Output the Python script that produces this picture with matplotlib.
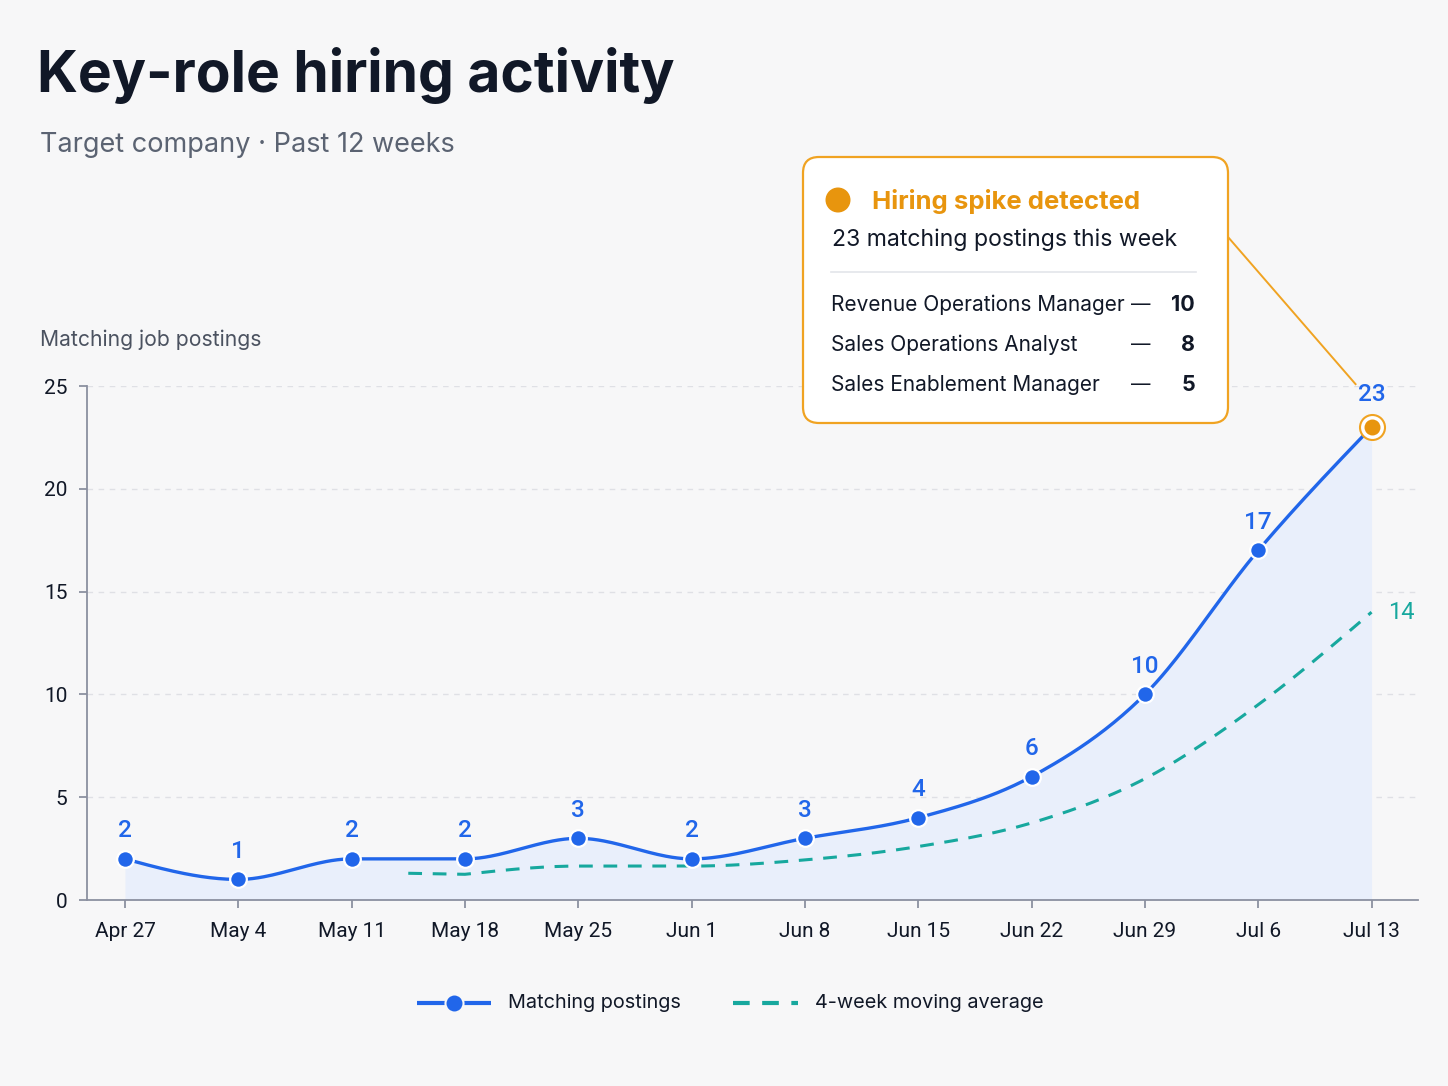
import numpy as np
import matplotlib
matplotlib.use("Agg")
import matplotlib.pyplot as plt
from matplotlib.patches import FancyBboxPatch, Circle

# ---------------- data ----------------
weeks = ["Apr 27", "May 4", "May 11", "May 18", "May 25", "Jun 1",
         "Jun 8", "Jun 15", "Jun 22", "Jun 29", "Jul 6", "Jul 13"]
postings = [2, 1, 2, 2, 3, 2, 3, 4, 6, 10, 17, 23]
moving_avg = [None, None, None, 1.25, 1.65, 1.65, 1.95, 2.6, 3.75, 5.9, 9.5, 14]
role_names = ["Revenue Operations Manager", "Sales Operations Analyst", "Sales Enablement Manager"]
role_counts = [10, 8, 5]
y_ticks = [0, 5, 10, 15, 20, 25]

# ---------------- style ----------------
W, H = 1448, 1086
BG = "#f7f7f8"
BLUE = "#2166ea"
TEAL = "#17a89e"
ORANGE = "#e8950e"
BOX_EDGE = "#f0a322"
DARK = "#111827"
GRAY = "#5b6372"
AXIS = "#8b90a0"
FILL = "#e9effb"

plt.rcParams['font.family'] = ['Inter', 'DejaVu Sans']


def monotone(x, y, n=40):
    x = np.asarray(x, float); y = np.asarray(y, float)
    h = np.diff(x); s = np.diff(y) / h
    m = np.zeros_like(y)
    for i in range(1, len(y) - 1):
        p = (s[i - 1] * h[i] + s[i] * h[i - 1]) / (h[i - 1] + h[i])
        m[i] = (np.sign(s[i - 1]) + np.sign(s[i])) * min(abs(s[i - 1]), abs(s[i]), 0.5 * abs(p))
    m[0] = (3 * s[0] - m[1]) / 2 if len(y) > 2 else s[0]
    m[-1] = (3 * s[-1] - m[-2]) / 2 if len(y) > 2 else s[-1]
    xs, ys = [], []
    for i in range(len(y) - 1):
        t = np.linspace(0, 1, n, endpoint=(i == len(y) - 2))
        h00 = 2 * t**3 - 3 * t**2 + 1
        h10 = t**3 - 2 * t**2 + t
        h01 = -2 * t**3 + 3 * t**2
        h11 = t**3 - t**2
        xs.append(x[i] + t * h[i])
        ys.append(h00 * y[i] + h10 * h[i] * m[i] + h01 * y[i + 1] + h11 * h[i] * m[i + 1])
    return np.concatenate(xs), np.concatenate(ys)


fig = plt.figure(figsize=(W / 100, H / 100), dpi=100, facecolor=BG)
ax = fig.add_axes([87 / W, 1 - 900 / H, (1418 - 87) / W, (900 - 386) / H])
ax.set_facecolor(BG)

x = np.arange(len(weeks))
ax.set_xlim(-0.335, 11.41)
ax.set_ylim(0, 25)

# grid
for yt in y_ticks[1:]:
    ax.axhline(yt, color="#dfe0e5", lw=1, dashes=(4, 4), zorder=0)

# main series
sx, sy = monotone(x, postings)
ax.fill_between(sx, 0, sy, color=FILL, zorder=1, lw=0)
ax.plot(sx, sy, color=BLUE, lw=2.4, zorder=3, solid_capstyle="round")
ax.plot(x[:-1], postings[:-1], "o", ms=12, color=BLUE, mec="white", mew=1.6, zorder=4)
# highlighted last point
ax.plot(x[-1], postings[-1], "o", ms=18, color="white", mec=BOX_EDGE, mew=1.5, zorder=4)
ax.plot(x[-1], postings[-1], "o", ms=11.5, color=ORANGE, mec=ORANGE, mew=0, zorder=5)

# moving average
ma_idx = [i for i, v in enumerate(moving_avg) if v is not None]
ma_val = [moving_avg[i] for i in ma_idx]
mx, my = monotone(ma_idx, ma_val)
mx = np.concatenate([[ma_idx[0] - 0.5], mx])
my = np.concatenate([[ma_val[0] + 0.05], my])
ax.plot(mx, my, color=TEAL, lw=2.2, dashes=(4.5, 3.5), zorder=2)
ax.annotate(f"{moving_avg[-1]:g}", (x[-1], moving_avg[-1]), xytext=(12, 0),
            textcoords="offset points", ha="left", va="center", color=TEAL,
            fontsize=17, family=["Roboto", "DejaVu Sans"])

# value labels
for i, v in enumerate(postings):
    off = 12 if i < len(postings) - 1 else 15
    ax.annotate(str(v), (x[i], v), xytext=(0, off), textcoords="offset points",
                ha="center", va="bottom", color=BLUE, fontsize=17.5, fontweight="medium",
                family=["Roboto", "DejaVu Sans"])

# axes styling
for sp in ["top", "right"]:
    ax.spines[sp].set_visible(False)
ax.spines["left"].set_color(AXIS)
ax.spines["bottom"].set_color(AXIS)
ax.spines["left"].set_linewidth(1.3)
ax.spines["bottom"].set_linewidth(1.3)
ax.set_xticks(x)
ax.set_xticklabels(weeks)
ax.set_yticks(y_ticks)
ax.set_yticklabels([str(t) for t in y_ticks])
ax.tick_params(axis="both", colors=AXIS, labelcolor=DARK, labelsize=15, length=6, width=1.3)
ax.tick_params(axis="x", pad=10)
ax.tick_params(axis="y", pad=8)
for lab in ax.get_xticklabels() + ax.get_yticklabels():
    lab.set_family(["Roboto", "DejaVu Sans"])

# ---------------- overlay (pixel coords) ----------------
ov = fig.add_axes([0, 0, 1, 1], facecolor="none")
ov.set_xlim(0, W); ov.set_ylim(H, 0); ov.axis("off")

ov.text(37, 75, "Key-role hiring activity", fontsize=41, fontweight="bold", color=DARK,
        va="center", ha="left")
ov.text(40, 145, "Target company · Past 12 weeks", fontsize=19.5, color=GRAY, va="center", ha="left")
ov.text(40, 340, "Matching job postings", fontsize=15.2, color="#4b5260", va="center", ha="left")

# callout box
box = FancyBboxPatch((803, 157), 425, 266, boxstyle="round,pad=0,rounding_size=16",
                     fc="white", ec=BOX_EDGE, lw=1.6, zorder=5)
ov.add_patch(box)
ov.add_patch(Circle((838, 200), 12.5, fc=ORANGE, ec="none", zorder=6))
ov.text(872, 202, "Hiring spike detected", fontsize=18.5, fontweight="bold", color=ORANGE,
        va="center", ha="left", zorder=6)
ov.text(832, 240, f"{postings[-1]} matching postings this week", fontsize=16.6, color=DARK,
        va="center", ha="left", zorder=6)
ov.plot([831, 1196], [272, 272], color="#e3e5ea", lw=1.2, zorder=6)
for k, (nm, ct) in enumerate(zip(role_names, role_counts)):
    yy = 305 + 40 * k
    ov.text(831, yy, nm, fontsize=15, color=DARK, va="center", ha="left", zorder=6)
    ov.text(1141, yy, "—", fontsize=14, color=DARK, va="center", ha="center", zorder=6)
    ov.text(1195, yy, str(ct), fontsize=15.5, fontweight="bold", color=DARK,
            va="center", ha="right", zorder=6)

# connector
fig.canvas.draw()
px, py = ax.transData.transform((x[-1], postings[-1]))
py = H - py
ov.plot([1228, px - 16], [237, py - 43], color=BOX_EDGE, lw=1.4, zorder=4)

# legend
ly = 1003
ov.plot([417, 491], [ly, ly], color=BLUE, lw=3, solid_capstyle="butt")
ov.plot([454], [ly], "o", ms=13, color=BLUE, mec=BG, mew=1.5)
ov.text(508, ly, "Matching postings", fontsize=14.3, color=DARK, va="center", ha="left")
ov.plot([733, 798], [ly, ly], color=TEAL, lw=3, dashes=(4, 3))
ov.text(815, ly, "4-week moving average", fontsize=14.3, color=DARK, va="center", ha="left")

fig.savefig("out.png", dpi=100, facecolor=BG)
